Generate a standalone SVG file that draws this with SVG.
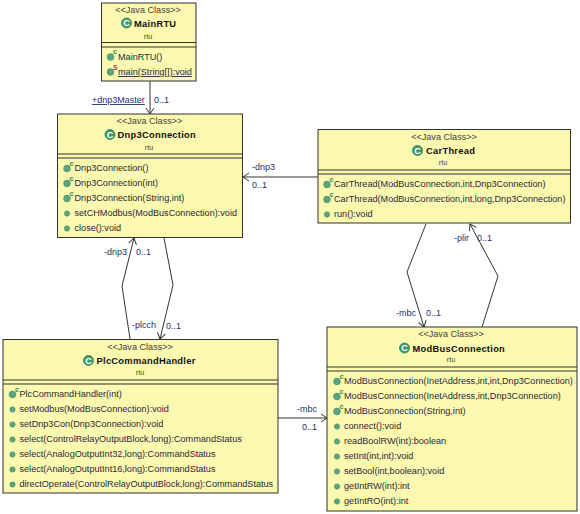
<svg xmlns="http://www.w3.org/2000/svg" width="580" height="514" viewBox="0 0 580 514">
<style>
text{font-family:"Liberation Sans",Arial,sans-serif;font-size:9.12px;fill:#2a2a3a}
.box{fill:#fbf8b0;stroke:#333;stroke-width:1}
.sep{stroke:#333;stroke-width:1;fill:none}
.st{text-anchor:middle;font-size:9.1px;fill:#444}
.nm{font-weight:bold;font-size:9.3px;letter-spacing:.3px;fill:#111}
.pk{text-anchor:middle;font-size:7.2px;fill:#444}
.ic{fill:#3f9a6e;stroke:#2e7d58;stroke-width:.8}
.icl{fill:#fff;font-weight:bold;font-size:9px;text-anchor:middle}
.dot{fill:#5aa57f;stroke:#3f8a66;stroke-width:.5}
.big{fill:#5aa57f;stroke:#3f8a66;stroke-width:.5}
.c{font-size:7.5px;font-weight:bold;fill:#2e8b57}
.s{font-size:7px;font-weight:bold;fill:#c0304a}
.lb{fill:#1f2f66;font-size:9px}
.cn{fill:none;stroke:#333;stroke-width:1}
.ar{marker-end:url(#open)}
</style>
<defs>
<marker id="open" markerUnits="userSpaceOnUse" markerWidth="12" markerHeight="12" refX="9" refY="6" orient="auto"><path d="M3 2L9 6L3 10" fill="none" stroke="#333" stroke-width="1"/></marker>
</defs>
<g id="connectors">
<path class="cn ar" d="M150 81V114"/>
<path class="cn ar" d="M318 177H243"/>
<path class="cn ar" d="M130 339L122 286L134 238"/>
<path class="cn ar" d="M164 238L173 285L160 339"/>
<path class="cn ar" d="M426 224L407 272L424 327"/>
<path class="cn ar" d="M482 327L498 276L470 224"/>
<path class="cn ar" d="M278 418H327"/>
</g>
<g id="labels">
<text class="lb" x="92" y="103" text-decoration="underline">+dnp3Master</text>
<text class="lb" x="154" y="103">0..1</text>
<text class="lb" x="252" y="170">-dnp3</text>
<text class="lb" x="252" y="188">0..1</text>
<text class="lb" x="104" y="255">-dnp3</text>
<text class="lb" x="136" y="255">0..1</text>
<text class="lb" x="132" y="328">-plcch</text>
<text class="lb" x="166" y="329">0..1</text>
<text class="lb" x="454" y="241">-plir</text>
<text class="lb" x="477" y="241">0..1</text>
<text class="lb" x="396" y="316">-mbc</text>
<text class="lb" x="426" y="316">0..1</text>
<text class="lb" x="297" y="412">-mbc</text>
<text class="lb" x="302" y="430">0..1</text>
</g>
<g id="MainRTU">
<rect class="box" x="101.500" y="3" width="94.500" height="78"/>
<path class="sep" d="M101.500 42.500H196M101.500 47H196"/>
<text class="st" x="148" y="13">&lt;&lt;Java Class&gt;&gt;</text>
<circle class="ic" cx="126.500" cy="23" r="5"/><text class="icl" x="126.500" y="26.300">C</text>
<text class="nm" x="134" y="26.500">MainRTU</text>
<text class="pk" x="148" y="38.500">rtu</text>
<circle class="big" cx="110.500" cy="57" r="3.400"/><text class="c" x="113" y="54">c</text>
<text x="118" y="60">MainRTU()</text>
<circle class="big" cx="110.500" cy="72" r="3.400"/><text class="s" x="113" y="69.500">S</text>
<text x="118" y="75" text-decoration="underline">main(String[]):void</text>
</g>
<g id="Dnp3Connection">
<rect class="box" x="57.500" y="114" width="185" height="123.500"/>
<path class="sep" d="M57.500 154H242.500M57.500 158H242.500"/>
<text class="st" x="149.500" y="124">&lt;&lt;Java Class&gt;&gt;</text>
<circle class="ic" cx="110" cy="134.500" r="5"/><text class="icl" x="110" y="137.800">C</text>
<text class="nm" x="117.500" y="138">Dnp3Connection</text>
<text class="pk" x="149" y="150">rtu</text>
<circle class="big" cx="67" cy="168.500" r="3.400"/><text class="c" x="69.500" y="165.500">c</text>
<text x="74.500" y="171">Dnp3Connection()</text>
<circle class="big" cx="67" cy="183.500" r="3.400"/><text class="c" x="69.500" y="180.500">c</text>
<text x="74.500" y="186">Dnp3Connection(int)</text>
<circle class="big" cx="67" cy="198.500" r="3.400"/><text class="c" x="69.500" y="195.500">c</text>
<text x="74.500" y="201">Dnp3Connection(String,int)</text>
<circle class="dot" cx="67" cy="213.500" r="2.700"/>
<text x="74.500" y="216">setCHModbus(ModBusConnection):void</text>
<circle class="dot" cx="67" cy="228.500" r="2.700"/>
<text x="74.500" y="231">close():void</text>
</g>
<g id="PlcCommandHandler">
<rect class="box" x="3" y="339.500" width="275" height="153.500"/>
<path class="sep" d="M3 380H278M3 384H278"/>
<text class="st" x="140" y="350">&lt;&lt;Java Class&gt;&gt;</text>
<circle class="ic" cx="88.500" cy="360.500" r="5"/><text class="icl" x="88.500" y="363.800">C</text>
<text class="nm" x="96.500" y="364">PlcCommandHandler</text>
<text class="pk" x="140" y="375">rtu</text>
<circle class="big" cx="12.500" cy="394.500" r="3.400"/><text class="c" x="15" y="391.500">c</text>
<text x="19.500" y="397">PlcCommandHandler(int)</text>
<circle class="dot" cx="12.500" cy="409.500" r="2.700"/>
<text x="19.500" y="412">setModbus(ModBusConnection):void</text>
<circle class="dot" cx="12.500" cy="424.500" r="2.700"/>
<text x="19.500" y="427">setDnp3Con(Dnp3Connection):void</text>
<circle class="dot" cx="12.500" cy="439.500" r="2.700"/>
<text x="19.500" y="442">select(ControlRelayOutputBlock,long):CommandStatus</text>
<circle class="dot" cx="12.500" cy="454.500" r="2.700"/>
<text x="19.500" y="457">select(AnalogOutputInt32,long):CommandStatus</text>
<circle class="dot" cx="12.500" cy="469.500" r="2.700"/>
<text x="19.500" y="472">select(AnalogOutputInt16,long):CommandStatus</text>
<circle class="dot" cx="12.500" cy="484.500" r="2.700"/>
<text x="19.500" y="487">directOperate(ControlRelayOutputBlock,long):CommandStatus</text>
</g>
<g id="CarThread">
<rect class="box" x="318" y="129.500" width="252.500" height="93.500"/>
<path class="sep" d="M318 170H570.500M318 174H570.500"/>
<text class="st" x="444" y="140">&lt;&lt;Java Class&gt;&gt;</text>
<circle class="ic" cx="417.500" cy="150.500" r="5"/><text class="icl" x="417.500" y="153.800">C</text>
<text class="nm" x="426" y="154">CarThread</text>
<text class="pk" x="443" y="165">rtu</text>
<circle class="big" cx="327" cy="184.500" r="3.400"/><text class="c" x="329.500" y="181.500">c</text>
<text x="334" y="187">CarThread(ModBusConnection,int,Dnp3Connection)</text>
<circle class="big" cx="327" cy="199.500" r="3.400"/><text class="c" x="329.500" y="196.500">c</text>
<text x="334" y="202">CarThread(ModBusConnection,int,long,Dnp3Connection)</text>
<circle class="dot" cx="327" cy="214.500" r="2.700"/>
<text x="334" y="217">run():void</text>
</g>
<g id="ModBusConnection">
<rect class="box" x="327" y="327" width="250" height="184"/>
<path class="sep" d="M327 367H577M327 371H577"/>
<text class="st" x="451" y="337">&lt;&lt;Java Class&gt;&gt;</text>
<circle class="ic" cx="404.500" cy="348" r="5"/><text class="icl" x="404.500" y="351.300">C</text>
<text class="nm" x="412.500" y="351.500">ModBusConnection</text>
<text class="pk" x="451" y="362">rtu</text>
<circle class="big" cx="337" cy="381.500" r="3.400"/><text class="c" x="339.500" y="378.500">c</text>
<text x="344" y="384">ModBusConnection(InetAddress,int,int,Dnp3Connection)</text>
<circle class="big" cx="337" cy="396.500" r="3.400"/><text class="c" x="339.500" y="393.500">c</text>
<text x="344" y="399">ModBusConnection(InetAddress,int,Dnp3Connection)</text>
<circle class="big" cx="337" cy="411.500" r="3.400"/><text class="c" x="339.500" y="408.500">c</text>
<text x="344" y="414">ModBusConnection(String,int)</text>
<circle class="dot" cx="337" cy="426.500" r="2.700"/>
<text x="344" y="429">connect():void</text>
<circle class="dot" cx="337" cy="441.500" r="2.700"/>
<text x="344" y="444">readBoolRW(int):boolean</text>
<circle class="dot" cx="337" cy="456.500" r="2.700"/>
<text x="344" y="459">setInt(int,int):void</text>
<circle class="dot" cx="337" cy="471.500" r="2.700"/>
<text x="344" y="474">setBool(int,boolean):void</text>
<circle class="dot" cx="337" cy="486.500" r="2.700"/>
<text x="344" y="489">getIntRW(int):int</text>
<circle class="dot" cx="337" cy="501.500" r="2.700"/>
<text x="344" y="504">getIntRO(int):int</text>
</g>
</svg>
